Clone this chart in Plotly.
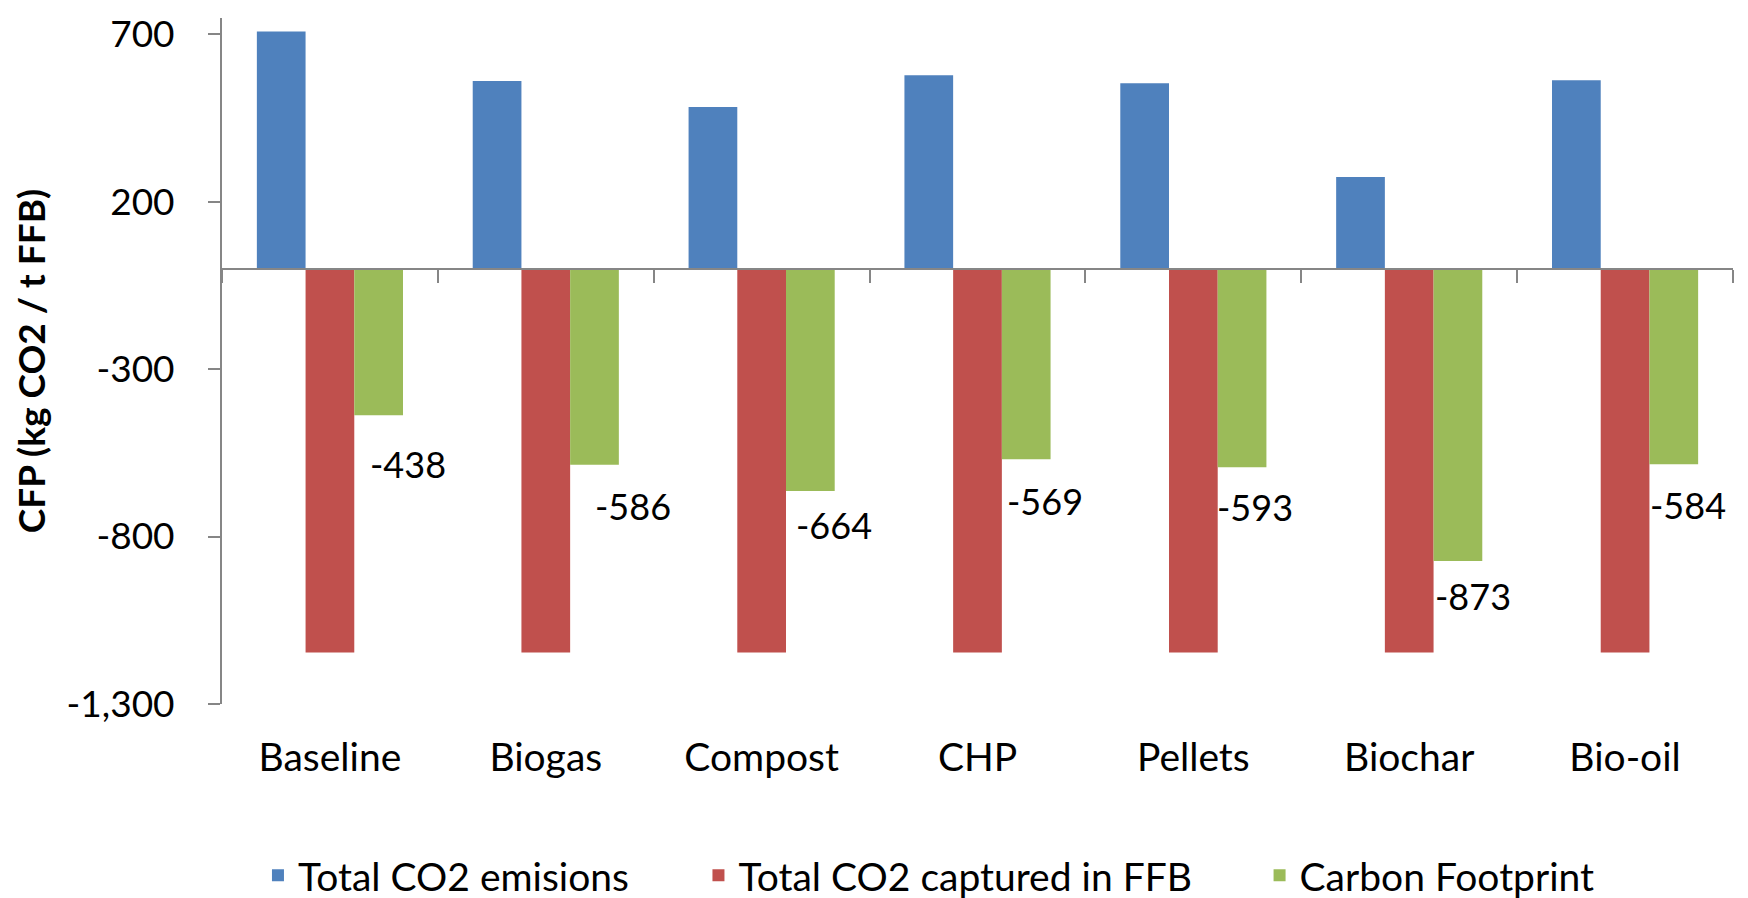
import plotly.graph_objects as go

categories = ["Baseline", "Biogas", "Compost", "CHP", "Pellets", "Biochar", "Bio-oil"]
co2_emissions = [708, 560, 482, 577, 553, 273, 562]
co2_captured = [-1146, -1146, -1146, -1146, -1146, -1146, -1146]
carbon_footprint = [-438, -586, -664, -569, -593, -873, -584]

series_names = ["Total CO2 emisions", "Total CO2 captured in FFB", "Carbon Footprint"]
series_colors = ["#4F81BD", "#C0504D", "#9BBB59"]

ytick_vals = [700, 200, -300, -800, -1300]
ytick_text = ["700", "200", "-300", "-800", "-1,300"]
y_range = [-1300, 748]

# label placement offsets (pixels) relative to category centre / bar end
label_dx = [78, 87, 72, 67, 62, 64, 63]
label_dy = [49, 41, 34, 42, 40, 35, 41]

FONT = "Lato"
AXIS_GREY = "#868686"

fig = go.Figure()
series_values = [co2_emissions, co2_captured, carbon_footprint]
legend_ids = ["legend", "legend2", "legend3"]
for name, vals, col, lg in zip(series_names, series_values, series_colors, legend_ids):
    fig.add_trace(go.Bar(
        x=categories, y=vals, name=name,
        marker=dict(color=col, line=dict(width=0)),
        legend=lg,
    ))

# invisible helper trace so the zero-crossing category axis has categories
fig.add_trace(go.Scatter(x=categories, y=co2_emissions, xaxis="x2", mode="none",
                         showlegend=False, hoverinfo="skip"))

zero_pos = (0 - y_range[0]) / (y_range[1] - y_range[0])

annotations = []
for cat, v, dx, dy in zip(categories, carbon_footprint, label_dx, label_dy):
    annotations.append(dict(
        x=cat, y=v, xref="x", yref="y", text=str(v), showarrow=False,
        xanchor="center", yanchor="middle", xshift=dx, yshift=-dy,
        font=dict(family=FONT, size=36, color="black"),
    ))

legend_common = dict(orientation="h", xref="container", yref="container",
                     yanchor="middle", y=0.034, xanchor="left",
                     font=dict(family=FONT, size=39, color="black"),
                     bgcolor="rgba(0,0,0,0)", borderwidth=0)

fig.update_layout(
    width=1748, height=898,
    margin=dict(l=214, r=23, t=10, b=202, autoexpand=False),
    paper_bgcolor="white", plot_bgcolor="white",
    barmode="group", bargap=0.323, bargroupgap=0,
    font=dict(family=FONT, size=36, color="black"),
    xaxis=dict(
        type="category", categoryorder="array", categoryarray=categories,
        range=[-0.5, len(categories) - 0.5], automargin=False,
        showline=False, ticks="", showgrid=False, zeroline=False,
        tickfont=dict(family=FONT, size=39, color="black"),
        ticklabelstandoff=27,
    ),
    xaxis2=dict(
        type="category", categoryorder="array", categoryarray=categories,
        range=[-0.5, len(categories) - 0.5], automargin=False,
        overlaying="x", anchor="free", position=zero_pos, side="bottom",
        showline=True, linecolor=AXIS_GREY, linewidth=2,
        ticks="outside", tickson="boundaries", ticklen=13, tickwidth=2, tickcolor=AXIS_GREY,
        showticklabels=False, showgrid=False, zeroline=False,
    ),
    yaxis=dict(
        range=y_range, tickvals=ytick_vals, ticktext=ytick_text, automargin=False,
        showline=True, linecolor=AXIS_GREY, linewidth=2,
        ticks="outside", ticklen=12, tickwidth=2, tickcolor=AXIS_GREY,
        showgrid=False, zeroline=False,
        tickfont=dict(family=FONT, size=37, color="black"),
        ticklabelstandoff=26,
        title=dict(text="<b>CFP (kg CO2 / t FFB)</b>", standoff=20,
                   font=dict(family=FONT, size=37, color="black")),
    ),
    legend=dict(x=0.143, **legend_common),
    legend2=dict(x=0.395, **legend_common),
    legend3=dict(x=0.716, **legend_common),
    annotations=annotations,
    showlegend=True,
)

fig.write_html("out.html")
